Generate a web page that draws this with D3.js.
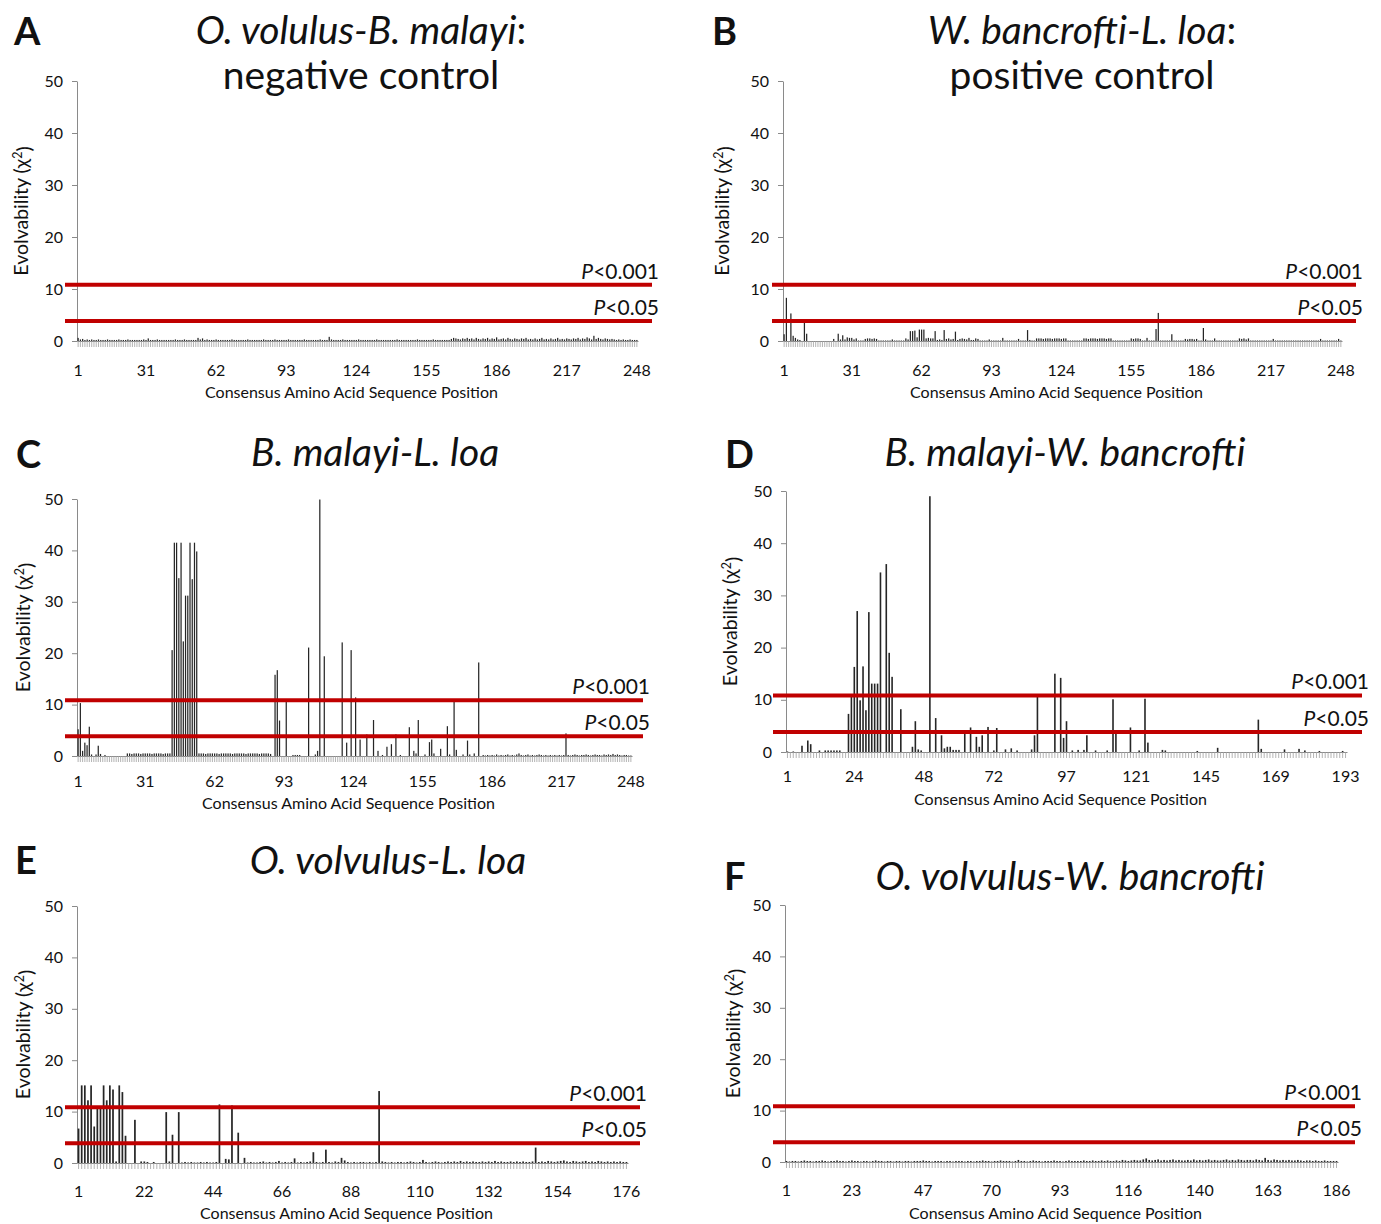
<!DOCTYPE html>
<html>
<head>
<meta charset="utf-8">
<script src="https://cdn.jsdelivr.net/npm/d3@7"></script>
<style>
  body { margin: 0; background: #fff; }
  text { font-family: Lato, "Open Sans", sans-serif; }
</style>
</head>
<body>
<svg id="fig" width="1381" height="1224"></svg>
<script>
// Significance thresholds of chi-square (1 d.f.)
const thresholds = [
  { label: "<0.001", value: 10.83 },
  { label: "<0.05", value: 3.84 }
];
const yTicks = [0, 10, 20, 30, 40, 50];

// Tick labels of the sequence-position axis
const ticksA = [1, 31, 62, 93, 124, 155, 186, 217, 248];
const ticksB = [1, 31, 62, 93, 124, 155, 186, 217, 248];
const ticksC = [1, 31, 62, 93, 124, 155, 186, 217, 248];
const ticksD = [1, 24, 48, 72, 97, 121, 145, 169, 193];
const ticksE = [1, 22, 44, 66, 88, 110, 132, 154, 176];
const ticksF = [1, 23, 47, 70, 93, 116, 140, 163, 186];

// Panel titles: [text, italic] runs per line
const titleA = [[["O. volulus-B. malayi", true], [":", false]], [["negative control", false]]];
const titleB = [[["W. bancrofti-L. loa", true], [":", false]], [["positive control", false]]];
const titleC = [[["B. malayi-L. loa", true]]];
const titleD = [[["B. malayi-W. bancrofti", true]]];
const titleE = [[["O. volvulus-L. loa", true]]];
const titleF = [[["O. volvulus-W. bancrofti", true]]];

// Evolvability (chi-square) at each consensus position
const valuesA = [
  0.6,0.3,0.4,0.2,0.3,0.2,0.3,0.2,0.2,0.3,0.2,0.2,0.2,0.3,0.2,0.2,0.2,0.2,0.3,0.2,
  0.2,0.2,0.3,0.2,0.2,0.2,0.2,0.2,0.2,0.3,0.2,0.5,0.2,0.2,0.2,0.3,0.2,0.2,0.2,0.2,
  0.2,0.2,0.2,0.3,0.2,0.2,0.2,0.3,0.2,0.2,0.2,0.2,0.2,0.6,0.3,0.5,0.2,0.3,0.2,0.2,
  0.2,0.3,0.2,0.2,0.2,0.2,0.2,0.2,0.3,0.2,0.2,0.2,0.2,0.2,0.2,0.3,0.2,0.2,0.2,0.2,
  0.2,0.2,0.3,0.2,0.2,0.2,0.2,0.3,0.2,0.2,0.2,0.2,0.2,0.3,0.2,0.2,0.2,0.2,0.2,0.2,
  0.3,0.2,0.2,0.2,0.2,0.2,0.2,0.3,0.2,0.2,0.2,0.8,0.3,0.2,0.2,0.2,0.2,0.3,0.2,0.2,
  0.2,0.2,0.2,0.2,0.3,0.2,0.2,0.2,0.2,0.2,0.2,0.2,0.3,0.2,0.2,0.2,0.2,0.2,0.2,0.2,
  0.2,0.3,0.2,0.2,0.2,0.2,0.2,0.2,0.2,0.2,0.3,0.2,0.2,0.2,0.2,0.2,0.2,0.3,0.2,0.2,
  0.2,0.2,0.2,0.2,0.2,0.4,0.6,0.5,0.4,0.3,0.5,0.4,0.6,0.4,0.5,0.3,0.6,0.4,0.3,0.5,
  0.4,0.6,0.3,0.5,0.4,0.7,0.3,0.4,0.5,0.3,0.6,0.4,0.3,0.5,0.4,0.3,0.5,0.4,0.6,0.3,
  0.4,0.3,0.5,0.3,0.4,0.6,0.3,0.4,0.3,0.5,0.3,0.4,0.6,0.3,0.4,0.3,0.5,0.4,0.3,0.5,
  0.4,0.6,0.3,0.5,0.4,0.7,0.5,0.3,1.0,0.4,0.6,0.4,0.3,0.5,0.4,0.3,0.4,0.3,0.2,0.3,
  0.2,0.3,0.2,0.2,0.3,0.2,0.2,0.2
];
const valuesB = [
  1.3,8.3,0,5.3,1.0,0.6,0.3,0.2,0,4.2,1.4,0,0,0,0,0,0,0,0,0,
  0,0,0.4,0,1.4,0.3,1.1,0.3,0.7,0.6,0.6,0.3,0.5,0.1,0.1,0.1,0.4,0.5,0.5,0.4,
  0.5,0.4,0.1,0.1,0.1,0.1,0.1,0.1,0.3,0.1,0.1,0.1,0.1,0.1,0.5,0.3,1.9,1.9,2.0,0.7,
  2.2,2.2,2.2,0.5,0.6,0.5,0.5,1.9,0.2,0.3,0.2,2.1,0.4,0.5,0.3,0.4,1.8,0.2,0.4,0.5,
  0.4,0.3,0.6,0.2,0.2,0.5,0.4,0.1,0.1,0.1,0.1,0.3,0.1,0.1,0.1,0.1,0.1,0.6,0.1,0.1,
  0.1,0.1,0.1,0.1,0.4,0.1,0.1,0.1,2.1,0.2,0.1,0.1,0.5,0.5,0.5,0.4,0.5,0.5,0.5,0.4,
  0.5,0.5,0.5,0.4,0.5,0.5,0.1,0.1,0.1,0.1,0.1,0.1,0.1,0.5,0.5,0.4,0.5,0.5,0.5,0.4,
  0.5,0.5,0.5,0.4,0.5,0.5,0.1,0.1,0.1,0.1,0.1,0.1,0.1,0.1,0.5,0.4,0.5,0.5,0.4,0.1,
  0.1,0.6,0.1,0.1,0.1,2.3,5.4,0.1,0.1,0.1,0.1,0.1,1.3,0.1,0.1,0.1,0.1,0.1,0.4,0.3,
  0.4,0.4,0.3,0.4,0.1,0.1,2.5,0.3,0.1,0.1,0.1,0.5,0.1,0.1,0.1,0.1,0.1,0.1,0.1,0.1,
  0.1,0.1,0.5,0.4,0.5,0.3,0.5,0.1,0.1,0.1,0.1,0.1,0.1,0.1,0.1,0.1,0.1,0.4,0.1,0.1,
  0.1,0.1,0.1,0.1,0.1,0.1,0.1,0.1,0.1,0.1,0.1,0.1,0.1,0.1,0.1,0.1,0.1,0.1,0.4,0.1,
  0.1,0.1,0.1,0.1,0.1,0.1,0.4,0.1
];
const valuesC = [
  5.2,10.3,1.0,2.6,2.1,5.7,0.3,0,0.3,2.0,0.4,0,0.2,0,0,0,0,0,0,0,
  0,0,0.5,0.5,0.4,0.5,0.5,0.5,0.4,0.5,0.5,0.5,0.5,0.4,0.5,0.5,0.5,0.5,0.4,0.5,
  0.5,0.5,20.6,41.5,41.5,34.6,41.5,22.3,31.2,31.2,41.5,34.4,41.5,39.8,0.5,0.5,0.5,0.4,0.5,0.5,
  0.5,0.5,0.5,0.4,0.5,0.5,0.5,0.5,0.5,0.4,0.5,0.5,0.5,0.5,0.5,0.4,0.5,0.5,0.5,0.5,
  0.5,0.4,0.5,0.5,0.5,0.5,0.4,0,15.8,16.7,6.9,0,0,10.7,0,0,0.2,0.2,0.2,0.2,
  0,0,0,21.1,0,0,0.3,1.0,49.9,0,19.4,0,0,0,0,0,0,0,22.1,0,
  2.6,0,20.6,0,11.4,0,3.2,0,0,4.2,0,0,7.0,0,1.0,0,0.2,0,1.8,0,
  2.3,0,4.2,0,0.2,0,0,0,5.6,0,1.0,0.5,7.0,0,0,0.3,0,2.7,3.2,0.5,
  0,0,1.4,0,0,5.8,0.3,0,10.7,1.2,0,0,0.3,0,3.0,0.3,0,0.5,0,18.2,
  0,0.2,0.1,0.2,0.1,0.2,0.1,0.3,0.1,0.2,0.1,0.2,0.3,0.1,0.2,0.1,0.3,0.5,0.2,0.1,
  0.2,0.3,0.1,0.2,0.1,0.2,0.3,0.2,0.1,0.2,0.1,0.2,0.1,0.2,0.1,0.2,0.1,0.2,4.4,0.2,
  0.1,0.2,0.3,0.2,0.1,0.2,0.2,0.3,0.2,0.1,0.2,0.3,0.2,0.2,0.1,0.3,0.2,0.3,0.2,0.4,
  0.2,0.3,0.2,0.1,0.2,0.2,0.1,0.1
];
const valuesD = [
  0.1,0,0.1,0,0,1.2,0,2.2,1.5,0,0,0.3,0,0.3,0.3,0.3,0.3,0.3,0.3,0,
  0,7.3,10.7,16.3,27.0,9.9,16.4,8.0,26.8,13.1,13.1,13.1,34.4,0,36.0,19.0,14.4,0,0,8.2,
  0,0,0,1.0,5.9,0.5,0.3,0,0,49.0,0,6.5,0,3.2,0.7,1.0,1.0,0.4,0.4,0.4,
  0,3.5,0,4.7,0,2.9,1.0,3.2,0,4.8,0,0.3,4.6,0,0,0.5,0,0.7,0,0.3,
  0,0,0,0,0.5,3.2,10.7,0,0,0,0,0,15.0,0,14.2,2.7,5.9,0,0.3,0,
  0.4,0,0.4,3.2,0,0,0.3,0,0,0,0.3,0,10.1,4.2,0,0,0,0,4.7,0,
  0,0.3,0,10.2,1.8,0,0,0,0,0.4,0.3,0,0,0,0,0,0,0,0,0,
  0,0.2,0,0,0,0,0,0,0.8,0,0,0,0,0,0,0,0,0,0,0,
  0,0,6.2,0.6,0,0,0,0,0,0,0,0.5,0,0,0,0,0.6,0,0.3,0,
  0,0,0,0.2,0,0,0,0,0,0,0,0.2,0
];
const valuesE = [
  6.7,15.1,15.1,12.2,15.1,7.1,10.6,10.6,15.1,12.2,15.1,14.3,0.3,15.1,13.8,5.3,0,0,8.4,0,
  0.3,0.3,0.2,0,0.2,0,0,0,9.9,0.3,5.5,0,9.9,0.1,0.2,0.1,0.2,0.1,0.1,0.2,
  0.1,0.2,0.1,0.1,0.2,11.4,0,0.8,0.7,11.2,0,5.9,0,1.0,0.1,0.2,0.1,0.1,0.2,0.3,
  0.1,0.2,0.1,0.2,0.4,0.1,0.2,0.1,0.2,0.9,0.1,0.2,0.1,0.2,0.3,2.1,0.2,0.1,0.2,2.6,
  0.2,0.1,0.3,0.2,1.0,0.5,0.2,0.1,0.2,0.1,0.2,0.2,0.1,0.2,0.1,0.2,14.0,0.3,0.2,0.1,
  0.2,0.1,0.2,0.2,0.1,0.2,0.3,0.2,0.1,0.2,0.6,0.2,0.1,0.2,0.3,0.2,0.1,0.2,0.3,0.2,
  0.3,0.2,0.4,0.2,0.3,0.2,0.3,0.2,0.2,0.3,0.2,0.3,0.2,0.4,0.2,0.3,0.2,0.2,0.3,0.2,
  0.3,0.2,0.3,0.2,0.2,0.3,3.0,0.2,0.3,0.2,0.4,0.3,0.2,0.3,0.4,0.5,0.3,0.2,0.4,0.3,
  0.2,0.3,0.4,0.2,0.3,0.2,0.4,0.3,0.2,0.3,0.2,0.3,0.2,0.3,0.2,0.2
];
const valuesF = [
  0.2,0.1,0.2,0.2,0.1,0.2,0.3,0.2,0.2,0.1,0.2,0.2,0.3,0.2,0.1,0.2,0.2,0.3,0.2,0.2,
  0.1,0.2,0.3,0.2,0.2,0.1,0.2,0.2,0.1,0.2,0.3,0.2,0.2,0.1,0.2,0.2,0.1,0.2,0.2,0.1,
  0.2,0.2,0.1,0.2,0.2,0.2,0.3,0.2,0.2,0.1,0.2,0.2,0.2,0.1,0.2,0.2,0.1,0.2,0.2,0.2,
  0.1,0.2,0.2,0.1,0.2,0.2,0.3,0.2,0.2,0.1,0.2,0.2,0.3,0.2,0.2,0.2,0.1,0.2,0.4,0.2,
  0.2,0.1,0.2,0.3,0.2,0.2,0.1,0.2,0.2,0.2,0.3,0.2,0.2,0.1,0.2,0.3,0.2,0.2,0.2,0.2,
  0.3,0.2,0.2,0.3,0.2,0.2,0.3,0.2,0.3,0.2,0.2,0.3,0.2,0.4,0.3,0.2,0.3,0.4,0.3,0.3,
  0.5,0.7,0.4,0.3,0.4,0.5,0.3,0.4,0.3,0.4,0.5,0.3,0.4,0.3,0.3,0.4,0.3,0.5,0.3,0.4,
  0.3,0.4,0.5,0.3,0.4,0.3,0.3,0.4,0.5,0.3,0.4,0.3,0.5,0.4,0.3,0.4,0.4,0.3,0.5,0.4,
  0.3,0.8,0.4,0.3,0.5,0.4,0.3,0.4,0.3,0.4,0.3,0.3,0.4,0.3,0.2,0.3,0.3,0.2,0.3,0.2,
  0.2,0.3,0.2,0.2,0.2,0.2
];

const yTitle = "Evolvability (\u03C7";
const xTitle = "Consensus Amino Acid Sequence Position";

// Placement of each panel on the page
const panels = [
  { letter: "A", title: titleA, values: valuesA, ticks: ticksA,
    x0: 77, x1: 638, top: 81, base: 341, redL: 65, redR: 652,
    letterXY: [14, 45], titleX: 361, titleY: [44, 89], yTitleX: 21, xLabY: 376, xTitleY: 398 },
  { letter: "B", title: titleB, values: valuesB, ticks: ticksB,
    x0: 783, x1: 1342, top: 81, base: 341, redL: 772, redR: 1356,
    letterXY: [712, 45], titleX: 1082, titleY: [44, 89], yTitleX: 722, xLabY: 376, xTitleY: 398 },
  { letter: "C", title: titleC, values: valuesC, ticks: ticksC,
    x0: 77, x1: 632, top: 499, base: 756, redL: 65, redR: 643,
    letterXY: [16, 468], titleX: 375, titleY: [466], yTitleX: 23, xLabY: 787, xTitleY: 809 },
  { letter: "D", title: titleD, values: valuesD, ticks: ticksD,
    x0: 786, x1: 1347, top: 491, base: 752, redL: 773, redR: 1362,
    letterXY: [725, 468], titleX: 1065, titleY: [466], yTitleX: 730, xLabY: 782, xTitleY: 805 },
  { letter: "E", title: titleE, values: valuesE, ticks: ticksE,
    x0: 77, x1: 628, top: 906, base: 1163, redL: 65, redR: 640,
    letterXY: [15, 874], titleX: 388, titleY: [874], yTitleX: 23, xLabY: 1197, xTitleY: 1219 },
  { letter: "F", title: titleF, values: valuesF, ticks: ticksF,
    x0: 785, x1: 1338, top: 905, base: 1162, redL: 773, redR: 1355,
    letterXY: [724, 890], titleX: 1070, titleY: [890], yTitleX: 733, xLabY: 1196, xTitleY: 1219 }
];

const svg = d3.select("#fig");
const axisGrey = "#8a8a8a";
const red = "#c00000";

panels.forEach(p => {
  const g = svg.append("g");
  const n = p.values.length;
  const positions = d3.range(1, n + 1);

  const x = d3.scaleBand().domain(positions).range([p.x0, p.x1]).padding(0);
  const y = d3.scaleLinear().domain([0, 50]).range([p.base, p.top]);

  // y axis
  const yAxis = g.append("g")
    .attr("transform", `translate(${p.x0},0)`)
    .call(d3.axisLeft(y).tickValues(yTicks).tickSize(5).tickPadding(9).tickSizeOuter(0));
  yAxis.select(".domain").attr("stroke", axisGrey);
  yAxis.selectAll(".tick line").attr("stroke", axisGrey);
  yAxis.selectAll(".tick text")
    .attr("font-family", "Lato, sans-serif").attr("font-size", 16).attr("fill", "#111");

  // category comb along the baseline
  const comb = g.append("g")
    .attr("transform", `translate(0,${p.base})`)
    .call(d3.axisBottom(x).tickSize(6).tickFormat("").tickSizeOuter(0));
  comb.select(".domain").attr("stroke", axisGrey);
  comb.selectAll(".tick line").attr("stroke", "#a0a0a0").attr("stroke-width", 0.8);

  // position labels
  const labels = g.append("g")
    .attr("transform", `translate(0,${p.xLabY})`)
    .call(d3.axisBottom(x).tickValues(p.ticks).tickSize(0).tickPadding(0));
  labels.select(".domain").remove();
  labels.selectAll(".tick text")
    .attr("dy", 0).attr("font-family", "Lato, sans-serif")
    .attr("font-size", 16).attr("fill", "#111");

  // bars
  const bw = Math.max(1, x.bandwidth() * 0.55);
  g.append("g").selectAll("rect")
    .data(p.values.map((v, i) => ({ pos: i + 1, v })).filter(d => d.v > 0))
    .join("rect")
    .attr("x", d => x(d.pos) + (x.bandwidth() - bw) / 2)
    .attr("width", bw)
    .attr("y", d => y(d.v))
    .attr("height", d => p.base - y(d.v))
    .attr("fill", "#262626");

  // threshold lines with labels
  thresholds.forEach(t => {
    g.append("line")
      .attr("x1", p.redL).attr("x2", p.redR)
      .attr("y1", y(t.value)).attr("y2", y(t.value))
      .attr("stroke", red).attr("stroke-width", 4);
    const lab = g.append("text")
      .attr("x", p.redR + 7).attr("y", y(t.value) - 6)
      .attr("text-anchor", "end").attr("font-size", 21).attr("fill", "#111");
    lab.append("tspan").attr("font-style", "italic").text("P");
    lab.append("tspan").text(t.label);
  });

  // axis titles
  const yt = g.append("text")
    .attr("transform", `translate(${p.yTitleX},${(p.top + p.base) / 2}) rotate(-90)`)
    .attr("text-anchor", "middle").attr("dy", "0.35em")
    .attr("font-size", 19.5).attr("fill", "#111");
  yt.append("tspan").text(yTitle);
  yt.append("tspan").attr("dy", "-0.45em").attr("font-size", 12.5).text("2");
  yt.append("tspan").attr("dy", "0.45em").text(")");

  g.append("text")
    .attr("x", (p.x0 + p.x1) / 2 - 6).attr("y", p.xTitleY)
    .attr("text-anchor", "middle").attr("font-size", 16).attr("fill", "#111")
    .text(xTitle);

  // panel letter
  g.append("text")
    .attr("x", p.letterXY[0]).attr("y", p.letterXY[1])
    .attr("font-size", 38).attr("font-weight", 700).attr("fill", "#111")
    .text(p.letter);

  // panel title
  p.title.forEach((line, li) => {
    const t = g.append("text")
      .attr("x", p.titleX).attr("y", p.titleY[li])
      .attr("text-anchor", "middle").attr("font-size", 39).attr("fill", "#111");
    line.forEach(([txt, it]) => {
      t.append("tspan").attr("font-style", it ? "italic" : "normal").text(txt);
    });
  });
});
</script>
</body>
</html>
